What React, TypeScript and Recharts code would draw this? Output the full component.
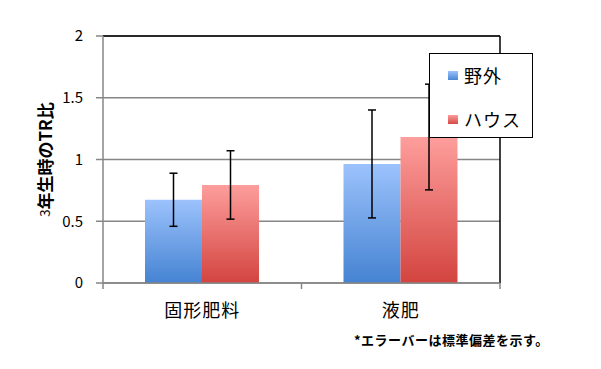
import React from 'react';
import { BarChart, Bar, XAxis, YAxis, CartesianGrid, ErrorBar, ReferenceLine, Legend } from 'recharts';

const categories = ['固形肥料', '液肥'];
const fieldValues = [0.674, 0.964];
const houseValues = [0.794, 1.182];
const fieldSD = [0.215, 0.437];
const houseSD = [0.277, 0.428];
const yTicks = [0, 0.5, 1, 1.5, 2];
const seriesNames = ['野外', 'ハウス'];
const yLabelDigit = '3';
const yLabelRest = '年生時のTR比';
const footnote = '*エラーバーは標準偏差を示す。';

const data = categories.map((c, i) => ({
  name: c,
  field: fieldValues[i],
  house: houseValues[i],
  fieldErr: fieldSD[i],
  houseErr: houseSD[i],
}));

const FONT = "'Noto Sans CJK JP', 'Noto Sans', sans-serif";
const GRID = '#868686';

const XTick = (props: any) => {
  const { x, y, payload, index, visibleTicksCount, width } = props;
  const count = visibleTicksCount || categories.length;
  const half = payload && payload.offset ? payload.offset : width / count / 2;
  return (
    <g>
      <line x1={x - half} y1={y} x2={x - half} y2={y + 6} stroke={GRID} strokeWidth={1.5} />
      {index === count - 1 && (
        <line x1={x + half} y1={y} x2={x + half} y2={y + 6} stroke={GRID} strokeWidth={1.5} />
      )}
      <text x={x} y={y + 26} textAnchor="middle" dominantBaseline="central" fontSize={18} fontFamily={FONT} fill="#000" letterSpacing={1}>
        {payload.value}
      </text>
    </g>
  );
};

const YLabel = (props: any) => {
  const vb = props.viewBox || { x: 0, y: 36, width: 103, height: 247 };
  const cx = vb.x + 44;
  const cy = vb.y + vb.height / 2;
  return (
    <text x={cx} y={cy} transform={`rotate(-90, ${cx}, ${cy})`} textAnchor="middle" dominantBaseline="central" fontFamily={FONT} fill="#000">
      <tspan fontSize={13}>{yLabelDigit}</tspan>
      <tspan fontSize={17} fontWeight="bold">{yLabelRest}</tspan>
    </text>
  );
};

const legendSwatches = [
  'linear-gradient(#9cc2fc, #4a86d3)',
  'linear-gradient(#fc9c9a, #d44a45)',
];

const LegendBox = () => (
  <div style={{ position: 'relative', width: 104, height: 85, boxSizing: 'border-box', border: '1.5px solid #000', background: '#fff', fontFamily: FONT }}>
    {seriesNames.map((n, i) => (
      <div key={n} style={{ position: 'absolute', left: 18, top: 10 + i * 44, height: 22, display: 'flex', alignItems: 'center' }}>
        <div style={{ width: 10, height: 9, background: legendSwatches[i], marginRight: 6 }} />
        <span style={{ fontSize: 18, color: '#000', lineHeight: '22px', letterSpacing: 1 }}>{n}</span>
      </div>
    ))}
  </div>
);

export default function App() {
  return (
    <div style={{ position: 'absolute', left: 0, top: 0, width: 601, height: 369, background: '#fff' }}>
      <BarChart
        width={601}
        height={369}
        data={data}
        margin={{ top: 36, right: 101, bottom: 56, left: 0 }}
        barCategoryGap={42}
        barGap={0}
      >
        <defs>
          <linearGradient id="gBlue" x1="0" y1="0" x2="0" y2="1">
            <stop offset="0%" stopColor="#9cc2fc" />
            <stop offset="100%" stopColor="#4583d2" />
          </linearGradient>
          <linearGradient id="gRed" x1="0" y1="0" x2="0" y2="1">
            <stop offset="0%" stopColor="#fd9e9c" />
            <stop offset="100%" stopColor="#d3443f" />
          </linearGradient>
        </defs>
        <CartesianGrid vertical={false} stroke={GRID} strokeWidth={1.5} />
        <XAxis
          dataKey="name"
          height={30}
          tickLine={false}
          tickSize={0}
          tickMargin={0}
          axisLine={{ stroke: GRID, strokeWidth: 1.5 }}
          tick={<XTick />}
          interval={0}
        />
        <YAxis
          width={103}
          domain={[0, 2]}
          ticks={yTicks}
          type="number"
          tickSize={7}
          tickMargin={13}
          tickLine={{ stroke: GRID, strokeWidth: 1.5 }}
          axisLine={{ stroke: GRID, strokeWidth: 1.5 }}
          tick={{ fill: '#000', fontSize: 15, fontFamily: FONT }}
          label={{ content: <YLabel /> }}
        />
        <ReferenceLine y={2} stroke="#000" strokeWidth={1.5} />
        <ReferenceLine x={categories[categories.length - 1]} position="end" stroke="#000" strokeWidth={1.5} />
        <Bar dataKey="field" name={seriesNames[0]} fill="url(#gBlue)" isAnimationActive={false}>
          <ErrorBar dataKey="fieldErr" width={4} stroke="#000" strokeWidth={1.5} />
        </Bar>
        <Bar dataKey="house" name={seriesNames[1]} fill="url(#gRed)" isAnimationActive={false}>
          <ErrorBar dataKey="houseErr" width={4} stroke="#000" strokeWidth={1.5} />
        </Bar>
        <Legend
          layout="horizontal"
          verticalAlign="middle"
          align="center"
          content={<LegendBox />}
          wrapperStyle={{ position: 'absolute', left: 429, top: 53, width: 104, height: 85, margin: 0 }}
        />
      </BarChart>
      <div style={{ position: 'absolute', left: 354, top: 330, fontSize: 13, fontWeight: 'bold', fontFamily: FONT, color: '#000', whiteSpace: 'nowrap', letterSpacing: 0.5 }}>
        {footnote}
      </div>
    </div>
  );
}
